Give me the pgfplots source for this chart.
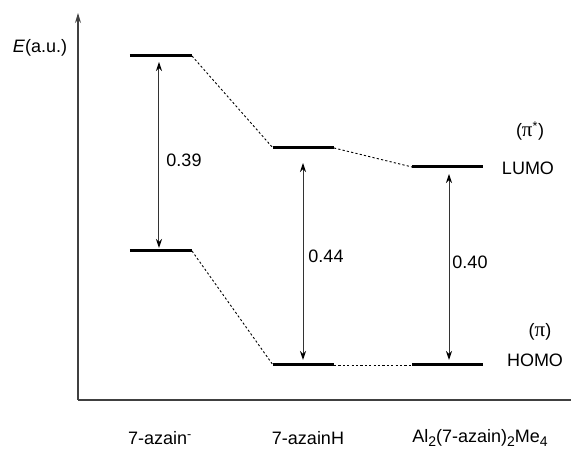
\documentclass[border=0pt]{standalone}
\usepackage{pgfplots}
\pgfplotsset{compat=1.18}
\usepackage{fontspec}
\setmainfont{Liberation Sans}
\newfontfamily\symfont{Liberation Serif}
\usetikzlibrary{arrows.meta}
\begin{document}
\fontsize{18}{21}\selectfont
\begin{tikzpicture}
\begin{axis}[
  scale only axis,
  width=493pt, height=387pt,
  xmin=78, xmax=571, ymin=49, ymax=436,
  axis lines=left,
  axis line style={line width=1.1pt, color=black!75},
  y axis line style={-{Stealth[length=10pt,width=6pt]}},
  x axis line style={-},
  xtick=\empty, ytick=\empty,
  clip=false,
  after end axis/.code={
    \coordinate (bl) at (axis cs:0,0);
    \coordinate (tr) at (axis cs:571,449);
  },
]
% energy levels
\addplot[black, line width=3pt, line cap=butt] coordinates {(130,393) (192,393)};
\addplot[black, line width=3pt, line cap=butt] coordinates {(130,198) (192,198)};
\addplot[black, line width=3pt, line cap=butt] coordinates {(273,301) (334,301)};
\addplot[black, line width=3pt, line cap=butt] coordinates {(273,84) (334,84)};
\addplot[black, line width=3pt, line cap=butt] coordinates {(412,282) (483,282)};
\addplot[black, line width=3pt, line cap=butt] coordinates {(412,84) (483,84)};
% connecting dashed lines
\addplot[black, line width=0.9pt, dash pattern=on 2.2pt off 2.2pt] coordinates {(192,393) (273,301)};
\addplot[black, line width=0.9pt, dash pattern=on 2.2pt off 2.2pt] coordinates {(192,198) (273,84)};
\addplot[black, line width=0.9pt, dash pattern=on 2.2pt off 2.2pt] coordinates {(334,301) (412,282)};
\addplot[black, line width=0.9pt, dash pattern=on 2.2pt off 2.2pt] coordinates {(334,84) (412,84)};
% gap arrows
\addplot[black!80, line width=1pt, {Stealth[length=9pt,width=6pt,black]}-{Stealth[length=9pt,width=6pt,black]}] coordinates {(159,387) (159,201)};
\addplot[black!80, line width=1pt, {Stealth[length=9pt,width=6pt,black]}-{Stealth[length=9pt,width=6pt,black]}] coordinates {(303,286) (303,89)};
\addplot[black!80, line width=1pt, {Stealth[length=9pt,width=6pt,black]}-{Stealth[length=9pt,width=6pt,black]}] coordinates {(449,275) (449,89)};
% labels
\node at (axis cs:184,289) {0.39};
\node at (axis cs:326,193) {0.44};
\node at (axis cs:470,187) {0.40};
\node at (axis cs:530,318) {({\symfont\fontsize{21}{21}\selectfont π}\textsuperscript{*})};
\node at (axis cs:528,281) {LUMO};
\node at (axis cs:540,117) {({\symfont\fontsize{21}{21}\selectfont π})};
\node at (axis cs:535,89) {HOMO};
\node at (axis cs:40,401) {\textit{E}(a.u.)};
\node at (axis cs:160,11) {7-azain\textsuperscript{-}};
\node at (axis cs:308,11) {7-azainH};
\node at (axis cs:480,11) {Al\raisebox{-4pt}{\fontsize{14}{14}\selectfont 2}(7-azain)\raisebox{-4pt}{\fontsize{14}{14}\selectfont 2}Me\raisebox{-4pt}{\fontsize{14}{14}\selectfont 4}};
\end{axis}
\pgfresetboundingbox
\path[use as bounding box] (bl) rectangle (tr);
\end{tikzpicture}
\end{document}
